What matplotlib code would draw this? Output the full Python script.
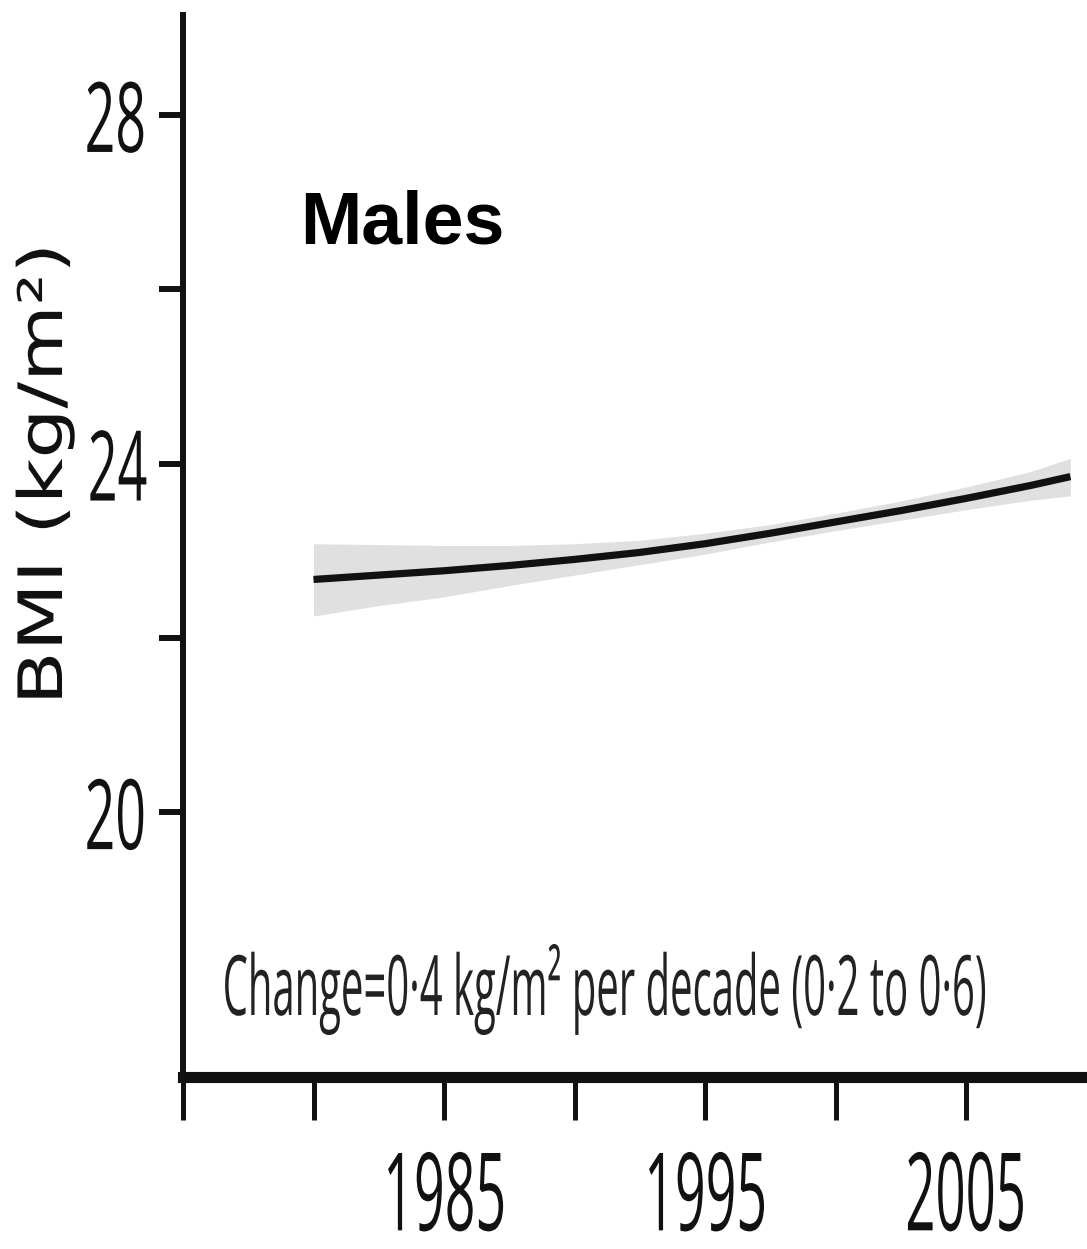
import numpy as np
import matplotlib
matplotlib.use("Agg")
import matplotlib.pyplot as plt
from matplotlib.patheffects import AbstractPathEffect
from matplotlib.transforms import Affine2D

# estimated trend (kg/m2) and its 95% band
years = [1980, 1982.5, 1985, 1987.5, 1990, 1992.5, 1995, 1997.5, 2000, 2002.5, 2005, 2007.5, 2009]
bmi = [22.67, 22.72, 22.77, 22.83, 22.90, 22.98, 23.08, 23.20, 23.33, 23.46, 23.60, 23.75, 23.85]
bmi_low = [22.25, 22.37, 22.47, 22.60, 22.72, 22.84, 22.96, 23.10, 23.23, 23.35, 23.47, 23.58, 23.63]
bmi_high = [23.08, 23.07, 23.06, 23.06, 23.08, 23.12, 23.20, 23.30, 23.43, 23.57, 23.73, 23.91, 24.06]

x_ticks = [1975, 1980, 1985, 1990, 1995, 2000, 2005]
x_labels = ["", "", "1985", "", "1995", "", "2005"]
y_ticks = [20, 22, 24, 26, 28]
y_labels = ["20", "", "24", "", "28"]

label_font = "Open Sans"


class Squeeze(AbstractPathEffect):
    # narrows the glyphs horizontally (the original uses a condensed face)
    def __init__(self, sx=None, width=None, anchor=0.5):
        super().__init__()
        self.sx = sx
        self.width = width
        self.anchor = anchor

    def draw_path(self, renderer, gc, tpath, affine, rgbFace=None):
        ext = tpath.get_extents()
        sx = self.sx
        if self.width is not None:
            m = affine.get_matrix()
            scale = np.hypot(m[0, 0], m[1, 0])
            sx = self.width / (ext.width * scale)
        x0 = ext.x0 + self.anchor * ext.width
        t = Affine2D().translate(-x0, 0).scale(sx, 1).translate(x0, 0) + affine
        renderer.draw_path(gc, tpath, t, rgbFace)


fig = plt.figure(figsize=(10.87, 12.49), dpi=100)
ax = fig.add_axes([183 / 1087, (1249 - 1077) / 1249, 1 - 183 / 1087, (1077 - 15) / 1249])

ax.fill_between(years, bmi_low, bmi_high, color="#e0e0e0", linewidth=0)
ax.plot(years, bmi, color="#111111", linewidth=5.2, solid_capstyle="butt")

ax.set_xlim(1975, 1975 + (1087 - 183) / 26.1)
ax.set_ylim(20 - (1077 - 812) / 87.2, 28 + 100 / 87.2)

for s in ["top", "right"]:
    ax.spines[s].set_visible(False)
ax.spines["left"].set_linewidth(4.3)
ax.spines["bottom"].set_linewidth(8)
ax.spines["left"].set_color("#111111")
ax.spines["bottom"].set_color("#111111")

ax.set_xticks(x_ticks)
ax.set_xticklabels(x_labels, fontfamily=label_font, fontsize=78, color="#111111")
ax.set_yticks(y_ticks)
ax.set_yticklabels(y_labels, fontfamily=label_font, fontsize=70, color="#111111")
ax.tick_params(axis="x", length=31, width=3.6, color="#111111", pad=20)
ax.tick_params(axis="y", length=17, width=4.3, color="#111111", pad=8)
for lbl in ax.get_xticklabels():
    lbl.set_path_effects([Squeeze(width=115, anchor=0.5)])
for lbl in ax.get_yticklabels():
    lbl.set_path_effects([Squeeze(width=56, anchor=1.0)])

ax.set_ylabel("BMI (kg/m²)", fontsize=44, fontfamily="DejaVu Sans", color="#111111",
              path_effects=[Squeeze(sx=1.29, anchor=0.5)])
ax.yaxis.set_label_coords((75 - 183) / 904, (1077 - 474) / 1062)

fig.text(300 / 1087, 1 - 244 / 1249, "Males", fontsize=53, fontweight="bold",
         fontfamily="Liberation Sans", va="baseline", ha="left")
fig.text(220 / 1087, 1 - 1015 / 1249, "Change=0·4 kg/m² per decade (0·2 to 0·6)",
         fontsize=60, fontfamily=label_font, va="baseline", ha="left", color="#222222",
         path_effects=[Squeeze(width=760, anchor=0.0)])

fig.savefig("out.png", dpi=100)
